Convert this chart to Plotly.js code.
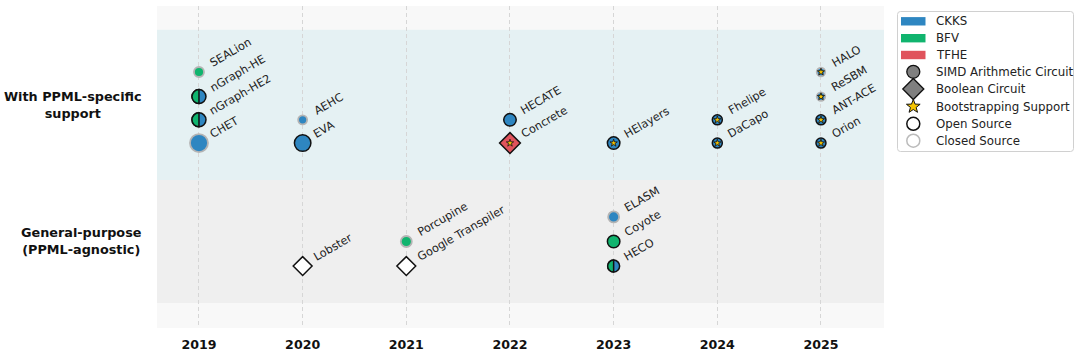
<!DOCTYPE html>
<html><head><meta charset="utf-8">
<script src="https://cdn.plot.ly/plotly-3.0.1.min.js"></script>
<style>html,body{margin:0;padding:0;background:#fff}#chart{width:1080px;height:352px}</style>
</head><body><div id="chart"></div>
<script>
// ---------- data ----------
const tools = ['SEALion','nGraph-HE','nGraph-HE2','CHET','AEHC','EVA','HECATE','Concrete','HElayers',
  'Fhelipe','DaCapo','HALO','ReSBM','ANT-ACE','Orion','ELASM','Coyote','HECO','Porcupine','Lobster','Google Transpiler'];
const years = [2019,2019,2019,2019,2020,2020,2022,2022,2023,2024,2024,2025,2025,2025,2025,2023,2023,2023,2021,2020,2021];
const rowY = [1.24,1.06,0.89,0.72,0.89,0.72,0.89,0.72,0.72,0.89,0.72,1.24,1.06,0.89,0.72,0.18,0,-0.18,0,-0.18,-0.18];
const schemes = ['BFV','BFV+CKKS','BFV+CKKS','CKKS','CKKS','CKKS','CKKS','TFHE','CKKS','CKKS','CKKS','CKKS','CKKS','CKKS','CKKS',
  'CKKS','BFV','BFV+CKKS','BFV','none','none'];
const circuits = ['SIMD','SIMD','SIMD','SIMD','SIMD','SIMD','SIMD','Boolean','SIMD','SIMD','SIMD','SIMD','SIMD','SIMD','SIMD',
  'SIMD','SIMD','SIMD','SIMD','Boolean','Boolean'];
const bootstrapping = [0,0,0,0,0,0,0,1,1,1,1,1,1,1,1,0,0,0,0,0,0];
const openSource = [0,1,1,0,0,1,1,1,1,1,1,0,0,1,1,0,1,1,0,1,1];
const markerSize = [10,14,14,18,9,16.5,12.5,16,12.5,10,10,8.5,8.5,10,10,11,12.5,12,11,14.5,14.5];
const yearTicks = [2019,2020,2021,2022,2023,2024,2025];
const groupY = [1,0];
const groupLabels = ['<b>With PPML-specific<br>support</b>','<b>General-purpose<br>(PPML-agnostic)</b>'];
const schemeNames = ['CKKS','BFV','TFHE'];
const featureLabels = ['SIMD Arithmetic Circuit','Boolean Circuit','Bootstrapping Support','Open Source','Closed Source'];

// ---------- styles ----------
const COLORS = {CKKS:'#2e86c1', BFV:'#10b46e', TFHE:'#e0535c', none:'#ffffff'};
const FONT = 'DejaVu Sans';
const X0 = 157, X1 = 884, Y0 = 6, Y1 = 328; // plot area px
const px2paperX = p => (p - X0) / (X1 - X0);
const px2paperY = p => (Y1 - p) / (Y1 - Y0);

function fillColor(s){ return s === 'BFV+CKKS' ? COLORS.CKKS : COLORS[s]; }

const traces = [];
traces.push({
  type:'scatter', mode:'markers', x: years, y: rowY, hoverinfo:'text', text: tools,
  marker:{
    opacity:1,
    symbol: circuits.map(c => c === 'Boolean' ? 'diamond' : 'circle'),
    size: markerSize,
    color: schemes.map(fillColor),
    line:{ color: openSource.map(o => o ? '#111111' : '#b4b4b4'), width: openSource.map(o => o ? 1.5 : 1.8) }
  },
  cliponaxis:false, showlegend:false
});
const bi = bootstrapping.map((b,i)=> b ? i : -1).filter(i => i >= 0);
traces.push({
  type:'scatter', mode:'markers', x: bi.map(i=>years[i]), y: bi.map(i=>rowY[i]), hoverinfo:'skip',
  marker:{opacity:1, symbol:'star', size:5.5, color:'#f5c400', line:{color:'#111', width:0.8}},
  cliponaxis:false, showlegend:false
});

const shapes = [];
// background bands
shapes.push({type:'rect', xref:'paper', yref:'y', x0:0, x1:1, y0:0.45, y1:1.55, fillcolor:'#e5f1f3', line:{width:0}, layer:'below'});
shapes.push({type:'rect', xref:'paper', yref:'y', x0:0, x1:1, y0:-0.45, y1:0.45, fillcolor:'#efefef', line:{width:0}, layer:'below'});

// split (BFV + CKKS) markers: left green half drawn on top of the blue circle
function leftHalf(r){ const k = 0.5523*r;
  return `M0,${r} C${-k},${r} ${-r},${k} ${-r},0 C${-r},${-k} ${-k},${-r} 0,${-r} Z`; }
schemes.forEach((s,i) => {
  if (s !== 'BFV+CKKS') return;
  shapes.push({type:'path', xref:'x', yref:'y', xsizemode:'pixel', ysizemode:'pixel',
    xanchor: years[i], yanchor: rowY[i], path: leftHalf(markerSize[i]/2),
    fillcolor: COLORS.BFV, line:{color:'#111', width:1.5}, layer:'above'});
});

// ---------- manual legend ----------
const LX0 = 897.5, LX1 = 1073.5, LY0 = 11.5, LY1 = 151.5, rr = 3;
(function(){
  const ax = px2paperX, ay = px2paperY;
  const rx = rr/(X1-X0), ry = rr/(Y1-Y0);
  const a = ax(LX0), b = ax(LX1), t = ay(LY0), u = ay(LY1);
  const p = `M${a+rx},${t} L${b-rx},${t} Q${b},${t} ${b},${t-ry} L${b},${u+ry} Q${b},${u} ${b-rx},${u} L${a+rx},${u} Q${a},${u} ${a},${u+ry} L${a},${t-ry} Q${a},${t} ${a+rx},${t} Z`;
  shapes.push({type:'path', xref:'paper', yref:'paper', path:p, fillcolor:'rgba(255,255,255,0.9)', line:{color:'#d0d0d0', width:1}, layer:'above'});
})();
const rowPx = [21.3, 38.2, 55, 71.8, 89, 106.5, 123.8, 140.7];
const annotations = [];
const symX = 913.3;
schemeNames.forEach((n,i) => {
  shapes.push({type:'rect', xref:'paper', yref:'paper', x0:px2paperX(901), x1:px2paperX(925.5),
    y0:px2paperY(rowPx[i]+4.2), y1:px2paperY(rowPx[i]-4.2), fillcolor:COLORS[n], line:{width:0}, layer:'above'});
});
function pixShape(extra, i){
  return Object.assign({xref:'paper', yref:'paper', xsizemode:'pixel', ysizemode:'pixel',
    xanchor:px2paperX(symX), yanchor:px2paperY(rowPx[i]), layer:'above'}, extra);
}
function starPath(R, rIn){ let s=''; for(let k=0;k<10;k++){ const ang = Math.PI/2 + k*Math.PI/5; const rad = k%2 ? rIn : R;
  s += (k ? 'L' : 'M') + (rad*Math.cos(ang)).toFixed(2) + ',' + (rad*Math.sin(ang)).toFixed(2) + ' '; } return s + 'Z'; }
shapes.push(pixShape({type:'circle', x0:-6.5, x1:6.5, y0:-6.5, y1:6.5, fillcolor:'#7f7f7f', line:{color:'#111', width:1.3}}, 3));
shapes.push(pixShape({type:'path', path:'M-10.5,0 L0,10.5 L10.5,0 L0,-10.5 Z', fillcolor:'#7f7f7f', line:{color:'#111', width:1.3}}, 4));
shapes.push(pixShape({type:'path', path:starPath(7.2,3), fillcolor:'#f5c400', line:{color:'#111', width:1}}, 5));
shapes.push(pixShape({type:'circle', x0:-6.5, x1:6.5, y0:-6.5, y1:6.5, fillcolor:'#ffffff', line:{color:'#111', width:1.5}}, 6));
shapes.push(pixShape({type:'circle', x0:-6.5, x1:6.5, y0:-6.5, y1:6.5, fillcolor:'#ffffff', line:{color:'#bbbbbb', width:1.5}}, 7));
schemeNames.concat(featureLabels).forEach((t,i) => {
  annotations.push({xref:'paper', yref:'paper', x:px2paperX(933.5), y:px2paperY(rowPx[i]), xanchor:'left', yanchor:'middle',
    text:t, showarrow:false, font:{family:FONT, size:11.8, color:'#222'}});
});

// tool labels
tools.forEach((t,i) => {
  annotations.push({x:years[i], y:rowY[i], text:t, showarrow:false, textangle:-30, xanchor:'left', yanchor:'bottom',
    xshift:6, yshift:-0.5, font:{family:FONT, size:11.3, color:'#222'}});
});
// group labels
groupLabels.forEach((t,i) => {
  annotations.push({xref:'paper', yref:'y', x:0, y:groupY[i], xshift:-13, xanchor:'right', yanchor:'middle', align:'center',
    text:t, showarrow:false, font:{family:FONT, size:12.8, color:'#111'}});
});

const layout = {
  width:1080, height:352,
  margin:{l:X0, r:1080-X1, t:Y0, b:352-Y1, pad:0},
  paper_bgcolor:'#ffffff', plot_bgcolor:'#f8f8f8',
  showlegend:false,
  xaxis:{range:[2018.595,2025.608], tickvals:yearTicks, ticktext:yearTicks.map(String),
    showgrid:true, gridcolor:'#d6d6d6', griddash:'4px,3px', gridwidth:1, zeroline:false, showline:false,
    ticks:'outside', ticklen:5, tickcolor:'rgba(0,0,0,0)',
    tickfont:{family:FONT, size:12.6, color:'#111', weight:'bold'}},
  yaxis:{range:[-0.633,1.723], showgrid:false, zeroline:false, showline:false, showticklabels:false, ticks:''},
  shapes, annotations,
  font:{family:FONT}
};
Plotly.newPlot('chart', traces, layout, {displayModeBar:false, staticPlot:true});
</script></body></html>
